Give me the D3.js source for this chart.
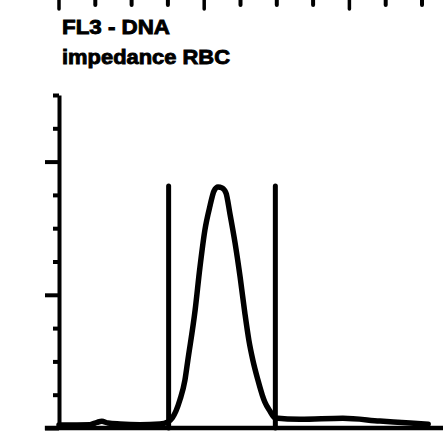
<!DOCTYPE html>
<html><head><meta charset="utf-8">
<script src="https://cdn.jsdelivr.net/npm/d3@7"></script>
<style>
html,body{margin:0;padding:0;background:#fff;}
svg{display:block;}
</style></head>
<body>
<svg id="chart" width="443" height="434"></svg>
<script>
// ---- data ----
const titleLines = ["FL3 - DNA", "impedance RBC"];
const channel = [0.00,0.85,1.05,1.18,1.35,1.68,2.23,2.78,3.00,3.12,3.33,3.47,3.55,3.75,3.88,4.02,4.16,4.27,4.38,4.49,4.60,4.71,4.85,4.99,5.12,5.23,5.34,5.48,5.60,5.67,5.81,5.95,6.64,7.82,8.84,9.67,10.17];
const counts  = [0.09,0.10,0.17,0.20,0.15,0.12,0.10,0.12,0.18,0.30,0.84,1.44,2.04,3.54,4.80,5.95,6.67,7.12,7.24,7.21,7.06,6.43,5.56,4.53,3.45,2.64,2.04,1.44,0.99,0.78,0.51,0.30,0.26,0.29,0.21,0.15,0.11];
const markerChannels = [3.02, 5.96];
const markerHeight = 7.27;
const xTickValues = [0,1,2,3,4,5,6,7,8,9,10];
const yTickValues = [0,1,2,3,4,5,6,7,8,9,10];
const majorTicks = [0,4,8];

// ---- scales ----
const svg = d3.select("#chart");
const x = d3.scaleLinear().domain([0,10]).range([59,422]);
const y = d3.scaleLinear().domain([0,10]).range([428,95]);

// top tick marks (bottom axis of the panel above, cut off)
const gTop = svg.append("g").attr("transform","translate(0,-2)");
gTop.selectAll("line.t").data(xTickValues).enter().append("line")
  .attr("x1", d=>x(d)).attr("x2", d=>x(d))
  .attr("y1", 0).attr("y2", d=> majorTicks.includes(d) ? 11 : 7)
  .attr("stroke","#000").attr("stroke-width", d=> majorTicks.includes(d) ? 3.5 : 4)
  .attr("stroke-linecap","round");

// titles
svg.selectAll("text.title").data(titleLines).enter().append("text")
  .attr("class","title")
  .attr("x", 62).attr("y", (d,i)=> 34 + i*29.5)
  .attr("font-family","'Liberation Sans', Arial, sans-serif")
  .attr("font-weight","bold").attr("font-size", 21)
  .attr("textLength", (d,i)=> i===0 ? 108 : 168)
  .attr("lengthAdjust","spacingAndGlyphs")
  .attr("stroke","#000").attr("stroke-width",0.9)
  .attr("fill","#000").text(d=>d);

// y axis
const yAxis = d3.axisLeft(y).tickValues(yTickValues).tickFormat("").tickSizeOuter(0);
const gy = svg.append("g").attr("transform",`translate(${x(0)},0)`).call(yAxis);
gy.select(".domain").attr("stroke","#000").attr("stroke-width",4);
gy.selectAll(".tick line")
  .attr("x2", d=> majorTicks.includes(d) ? -14 : -6)
  .attr("stroke","#000").attr("stroke-width",4);

// bottom baseline
svg.append("line")
  .attr("x1", x(-0.39)).attr("x2", x(10.7))
  .attr("y1", y(0)).attr("y2", y(0))
  .attr("stroke","#000").attr("stroke-width",4.5);

// marker lines
svg.selectAll("line.marker").data(markerChannels).enter().append("line")
  .attr("class","marker")
  .attr("x1", d=>x(d)).attr("x2", d=>x(d))
  .attr("y1", y(0)).attr("y2", y(markerHeight))
  .attr("stroke","#000").attr("stroke-width",5).attr("stroke-linecap","round");

// histogram curve
const pts = channel.map((c,i)=>[c, counts[i]]);
const line = d3.line().x(d=>x(d[0])).y(d=>y(d[1])).curve(d3.curveMonotoneX);
svg.append("path").datum(pts)
  .attr("d", line)
  .attr("fill","none").attr("stroke","#000")
  .attr("stroke-width",5.5).attr("stroke-linejoin","round").attr("stroke-linecap","round");
</script>
</body></html>
